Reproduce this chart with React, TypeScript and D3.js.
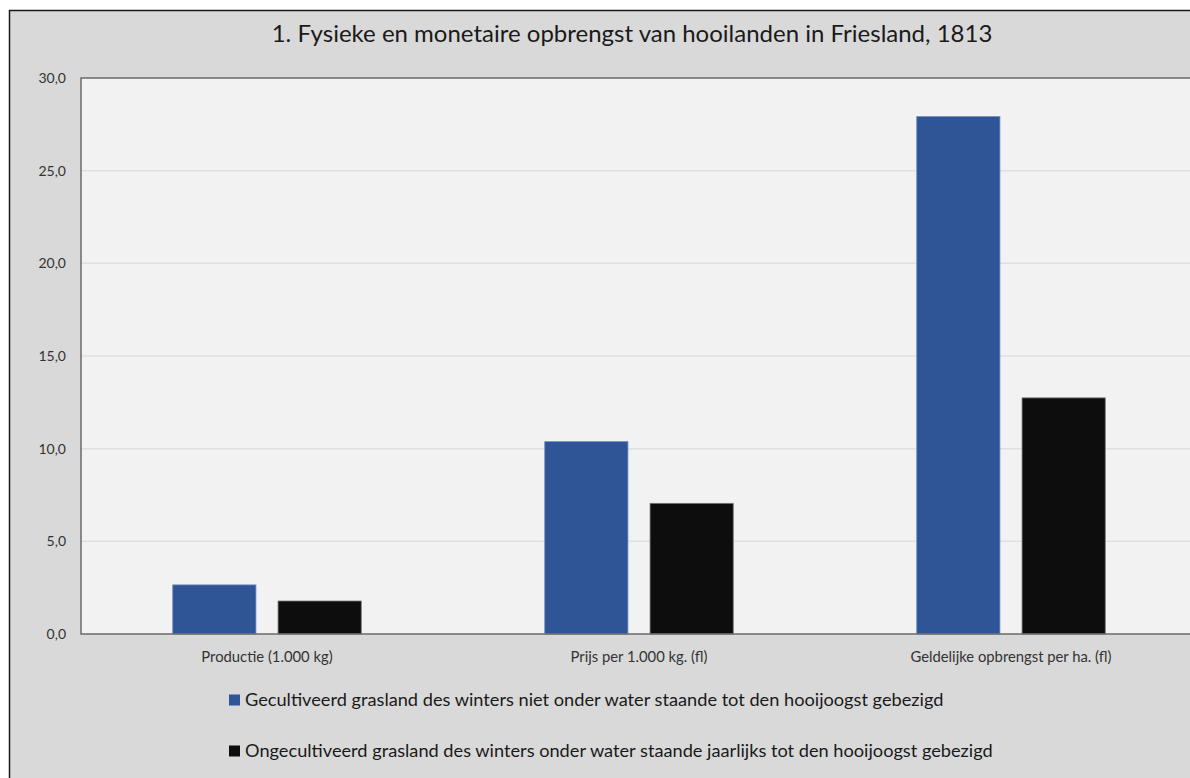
import React, { useEffect, useRef } from 'react'
import * as d3 from 'd3'

const categories = ['Productie (1.000 kg)', 'Prijs per 1.000 kg. (fl)', 'Geldelijke opbrengst per ha. (fl)']
const seriesNames = [
  'Gecultiveerd grasland des winters niet onder water staande tot den hooijoogst gebezigd',
  'Ongecultiveerd grasland des winters onder water staande jaarlijks tot den hooijoogst gebezigd',
]
const gecultiveerd = [2.65, 10.38, 27.92]
const ongecultiveerd = [1.78, 7.05, 12.74]
const yTicks = [0, 5, 10, 15, 20, 25, 30]
const colors = ['#2f5597', '#0d0d0d']

const font = 'Lato, "Open Sans", sans-serif'

function drawChart(svgEl: SVGSVGElement) {
  const svg = d3.select(svgEl)
  svg.selectAll('*').remove()

  const left = 81, right = 1197, top = 78, bottom = 634

  // outer chart box
  svg.append('rect')
    .attr('x', 9.5).attr('y', 10.5)
    .attr('width', 1300).attr('height', 900)
    .attr('fill', '#d9d9d9')
    .attr('stroke', '#1a1a1a')
    .attr('stroke-width', 1.5)

  svg.append('text')
    .attr('x', 632).attr('y', 42)
    .attr('text-anchor', 'middle')
    .attr('font-family', font)
    .attr('font-size', 24)
    .attr('fill', '#1a1a1a')
    .text('1. Fysieke en monetaire opbrengst van hooilanden in Friesland, 1813')

  const y = d3.scaleLinear().domain([0, 30]).range([bottom, top])
  const x0 = d3.scaleBand().domain(categories).range([left, right])
  const x1 = d3.scaleBand()
    .domain(['0', '1'])
    .range([0, x0.bandwidth()])
    .paddingInner(0.21)
    .paddingOuter(0.871)

  svg.append('rect')
    .attr('x', left).attr('y', top)
    .attr('width', right - left).attr('height', bottom - top)
    .attr('fill', '#f2f2f2')

  // gridlines
  svg.append('g')
    .selectAll('line')
    .data(yTicks.filter(t => t > 0 && t < 30))
    .join('line')
    .attr('x1', left).attr('x2', right)
    .attr('y1', d => y(d)).attr('y2', d => y(d))
    .attr('stroke', '#e0e0e0')
    .attr('stroke-width', 1.5)

  // y labels
  svg.append('g')
    .selectAll('text')
    .data(yTicks)
    .join('text')
    .attr('x', 66)
    .attr('y', d => y(d))
    .attr('dy', '0.35em')
    .attr('text-anchor', 'end')
    .attr('font-family', font)
    .attr('font-size', 14)
    .attr('fill', '#333')
    .text(d => d3.format('.1f')(d).replace('.', ','))

  const data = [gecultiveerd, ongecultiveerd]
  data.forEach((vals, si) => {
    svg.append('g')
      .selectAll('rect')
      .data(vals)
      .join('rect')
      .attr('x', (d, i) => (x0(categories[i]) as number) + (x1(String(si)) as number))
      .attr('width', x1.bandwidth())
      .attr('y', d => y(d))
      .attr('height', d => bottom - y(d))
      .attr('fill', colors[si])
      .attr('stroke', si === 0 ? '#6f8fc4' : '#777')
      .attr('stroke-width', 0.8)
  })

  // plot border: top + left + bottom axis
  svg.append('path')
    .attr('d', `M${right},${top}H${left}V${bottom}H${right}`)
    .attr('fill', 'none')
    .attr('stroke', '#6b6b6b')
    .attr('stroke-width', 1.5)

  // x labels
  svg.append('g')
    .selectAll('text')
    .data(categories)
    .join('text')
    .attr('x', d => (x0(d) as number) + x0.bandwidth() / 2)
    .attr('y', 662)
    .attr('text-anchor', 'middle')
    .attr('font-family', font)
    .attr('font-size', 14.8)
    .attr('fill', '#333')
    .text(d => d)

  // legend
  const legend = svg.append('g')
    .selectAll('g')
    .data(seriesNames)
    .join('g')
    .attr('transform', (d, i) => `translate(229,${700 + i * 51})`)
  legend.append('rect')
    .attr('x', 0).attr('y', -5.5)
    .attr('width', 11).attr('height', 11)
    .attr('fill', (d, i) => colors[i])
  legend.append('text')
    .attr('x', 16).attr('y', 0)
    .attr('dy', '0.35em')
    .attr('font-family', font)
    .attr('font-size', 18.2)
    .attr('fill', '#1a1a1a')
    .text(d => d)
}

export default function App() {
  const ref = useRef<SVGSVGElement>(null)

  useEffect(() => {
    if (ref.current) drawChart(ref.current)
  }, [])

  return (
    <svg
      ref={ref}
      width={1190}
      height={778}
      style={{ position: 'absolute', left: 0, top: 0, display: 'block', background: '#fff' }}
    />
  )
}
